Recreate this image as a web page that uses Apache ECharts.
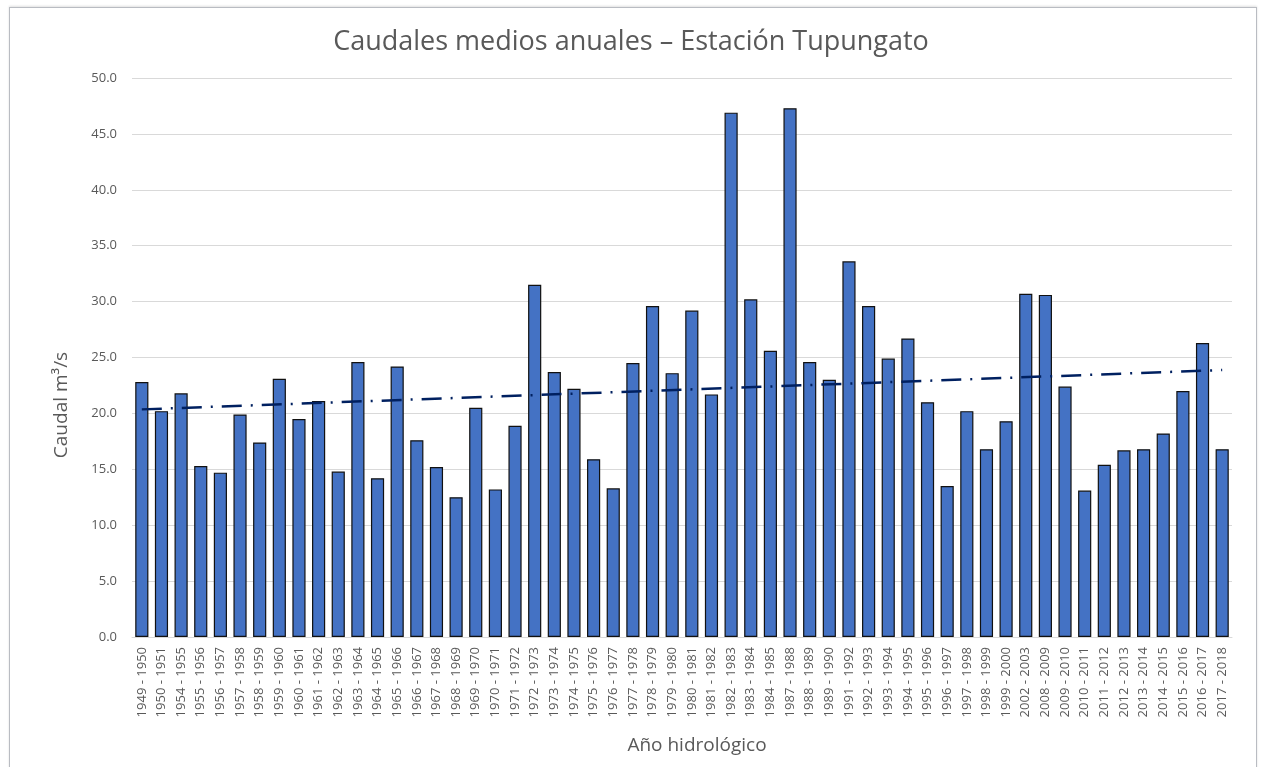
<!DOCTYPE html>
<html>
<head>
<meta charset="utf-8">
<script src="https://cdn.jsdelivr.net/npm/echarts@6/dist/echarts.min.js"></script>
<style>
  html, body { margin: 0; padding: 0; background: #fff; }
  .frame {
    position: absolute; left: 9px; top: 7px; width: 1246px; height: 800px;
    border: 1px solid #b9bcc2; box-shadow: 0 -1px 2px rgba(0,0,0,0.12);
  }
  #chart { position: absolute; left: 0; top: 0; width: 1262px; height: 767px; }
</style>
</head>
<body>
<div class="frame"></div>
<div id="chart"></div>
<script>
// años hidrológicos
const categories = [
  "1949 - 1950", "1950 - 1951", "1954 - 1955", "1955 - 1956", "1956 - 1957", "1957 - 1958",
  "1958 - 1959", "1959 - 1960", "1960 - 1961", "1961 - 1962", "1962 - 1963", "1963 - 1964",
  "1964 - 1965", "1965 - 1966", "1966 - 1967", "1967 - 1968", "1968 - 1969", "1969 - 1970",
  "1970 - 1971", "1971 - 1972", "1972 - 1973", "1973 - 1974", "1974 - 1975", "1975 - 1976",
  "1976 - 1977", "1977 - 1978", "1978 - 1979", "1979 - 1980", "1980 - 1981", "1981 - 1982",
  "1982 - 1983", "1983 - 1984", "1984 - 1985", "1987 - 1988", "1988 - 1989", "1989 - 1990",
  "1991 - 1992", "1992 - 1993", "1993 - 1994", "1994 - 1995", "1995 - 1996", "1996 - 1997",
  "1997 - 1998", "1998 - 1999", "1999 - 2000", "2002 - 2003", "2008 - 2009", "2009 - 2010",
  "2010 - 2011", "2011 - 2012", "2012 - 2013", "2013 - 2014", "2014 - 2015", "2015 - 2016",
  "2016 - 2017", "2017 - 2018"
];

// caudal medio anual (m3/s)
const caudal = [
  22.8, 20.2, 21.8, 15.3, 14.7, 19.9,
  17.4, 23.1, 19.5, 21.1, 14.8, 24.6,
  14.2, 24.2, 17.6, 15.2, 12.5, 20.5,
  13.2, 18.9, 31.5, 23.7, 22.2, 15.9,
  13.3, 24.5, 29.6, 23.6, 29.2, 21.7,
  46.9, 30.2, 25.6, 47.3, 24.6, 23.0,
  33.6, 29.6, 24.9, 26.7, 21.0, 13.5,
  20.2, 16.8, 19.3, 30.7, 30.6, 22.4,
  13.1, 15.4, 16.7, 16.8, 18.2, 22.0,
  26.3, 16.8
];

// línea de tendencia lineal (extremos)
const trendStart = 20.36;
const trendEnd = 23.88;

const yTicks = { min: 0, max: 50, interval: 5 };

const trend = categories.map((c, i) =>
  i === 0 ? trendStart : i === categories.length - 1 ? trendEnd : null
);

const font = "'Open Sans', 'Noto Sans', sans-serif";
const chart = echarts.init(document.getElementById("chart"));

const option = {
  animation: false,
  textStyle: { fontFamily: font },
  title: {
    text: "Caudales medios anuales – Estación Tupungato",
    left: "center",
    top: 24,
    textStyle: { fontFamily: font, fontSize: 27, fontWeight: "normal", color: "#595959" }
  },
  // títulos de ejes (posición como en el original)
  graphic: [
    {
      type: "text",
      x: 62,
      y: 405,
      rotation: Math.PI / 2,
      style: {
        text: "Caudal m³/s",
        font: "19px " + font,
        fill: "#595959",
        align: "center",
        verticalAlign: "middle"
      }
    },
    {
      type: "text",
      x: 697,
      y: 746,
      style: {
        text: "Año hidrológico",
        font: "19px " + font,
        fill: "#595959",
        align: "center",
        verticalAlign: "middle"
      }
    }
  ],
  grid: { left: 132, right: 30, top: 78, bottom: 130 },
  xAxis: {
    type: "category",
    data: categories,
    axisLine: { lineStyle: { color: "#d9d9d9", width: 1 } },
    axisTick: { show: false },
    axisLabel: {
      interval: 0,
      rotate: 90,
      fontSize: 13,
      color: "#595959",
      margin: 10
    }
  },
  yAxis: {
    type: "value",
    min: yTicks.min,
    max: yTicks.max,
    interval: yTicks.interval,
    axisLine: { show: false },
    axisTick: { show: false },
    axisLabel: {
      fontSize: 13,
      color: "#595959",
      margin: 15,
      formatter: (v) => v.toFixed(1)
    },
    splitLine: { lineStyle: { color: "#d9d9d9", width: 1 } }
  },
  series: [
    {
      name: "Caudal",
      type: "bar",
      data: caudal,
      barCategoryGap: "33%",
      itemStyle: { color: "#4472C4", borderColor: "#111", borderWidth: 1.2 }
    },
    {
      name: "Tendencia",
      type: "line",
      data: trend,
      connectNulls: true,
      showSymbol: false,
      symbol: "none",
      z: 5,
      lineStyle: { color: "#002060", width: 2.5, type: [20, 9, 2, 9] }
    }
  ]
};

chart.setOption(option);
</script>
</body>
</html>
